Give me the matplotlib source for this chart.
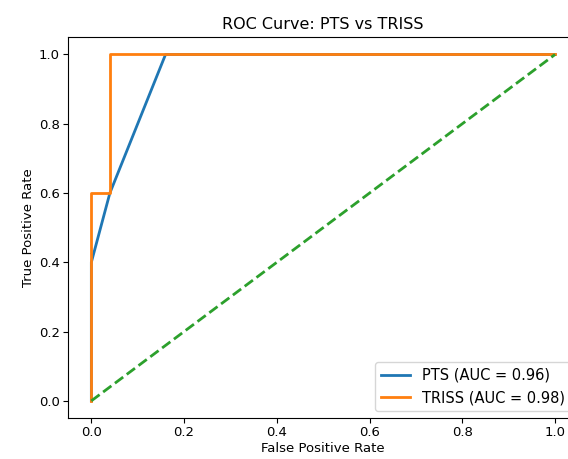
import matplotlib
matplotlib.use('Agg')
import matplotlib.pyplot as plt

# ROC points
pts_fpr = [0.0, 0.0, 0.04, 0.16, 1.0]
pts_tpr = [0.0, 0.4, 0.6, 1.0, 1.0]
triss_fpr = [0.0, 0.0, 0.04, 0.04, 1.0]
triss_tpr = [0.0, 0.6, 0.6, 1.0, 1.0]
pts_auc = 0.96
triss_auc = 0.98

plt.rcParams['font.size'] = 9.5

fig = plt.figure(figsize=(5.68, 4.59), dpi=100)
# the reference image is cropped on the right, so the axes run past the edge
ax = fig.add_axes([0.12, 0.089, 0.898, 0.830])

ax.plot(pts_fpr, pts_tpr, label='PTS (AUC = {:.2f})'.format(pts_auc), lw=2)
ax.plot(triss_fpr, triss_tpr, label='TRISS (AUC = {:.2f})'.format(triss_auc), lw=2)
ax.plot([0, 1], [0, 1], linestyle='--', color='tab:green', lw=2)

ax.tick_params(pad=2.5)
ax.set_xlabel('False Positive Rate', labelpad=2)
ax.set_ylabel('True Positive Rate', labelpad=3)
ax.set_title('ROC Curve: PTS vs TRISS', fontsize=11.5)
ax.legend(loc='lower right', fontsize=10.5)

fig.savefig('out.png')
